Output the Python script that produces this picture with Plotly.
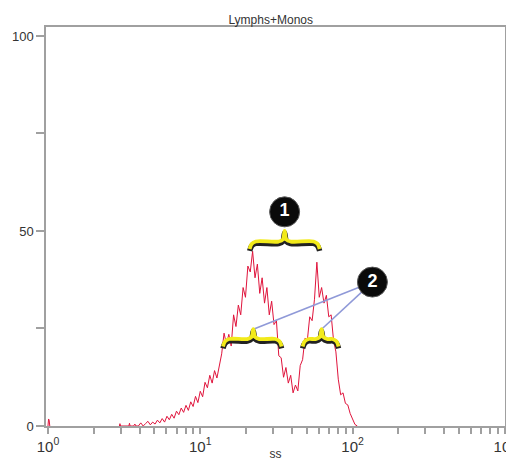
import math
import plotly.graph_objects as go

# ---------------- data ----------------
# histogram channels (256 channels per decade of SS) and event counts
# small spike at the very left of the scale
spike_channel = [0, 1, 2, 3]
spike_count = [0, 1.8, 1.5, 0]
# main distribution
channel = [120, 121, 122, 136, 137, 138, 144, 146, 148,
           152, 156, 160, 164, 168, 172, 176, 180, 184, 188, 192, 196,
           200, 204, 208, 212, 216, 220, 224, 228, 232, 236, 240, 244,
           248, 252, 256, 260, 264, 268, 272, 276, 280, 284, 288, 292,
           296, 300, 304, 308, 312, 316, 320, 324, 328, 332, 336, 340,
           344, 348, 352, 356, 360, 364, 368, 372, 376, 380, 384, 388,
           392, 396, 400, 404, 408, 412, 416, 420, 424, 428, 432, 436,
           440, 444, 448, 452, 456, 460, 464, 468, 472, 476, 480, 484,
           488, 492, 496, 500, 504, 508, 512, 516, 520]
count = [0, 0.6, 0, 0, 0.7, 0, 0, 0.5, 0,
         0, 0.8, 0, 0.6, 1.2, 0.3, 1.0, 0.5, 1.5, 0.8, 1.9, 1.0,
         2.5, 1.6, 3.0, 2.0, 3.8, 2.9, 4.6, 3.5, 5.3, 4.0, 6.2, 5.0,
         7.6, 6.0, 8.9, 7.5, 11.2, 9.8, 13.0, 11.0, 14.2, 12.3, 15.0, 18.5,
         23.8, 21.0, 23.5, 20.5, 28.5, 25.5, 31.0, 28.5, 35.5, 33.0, 41.0, 39.5,
         44.8, 38.0, 41.5, 34.0, 38.0, 31.5, 35.5, 28.5, 32.0, 26.0, 27.0, 18.0,
         17.5, 12.5, 15.0, 11.0, 13.0, 8.5, 10.5, 9.0, 15.5, 17.0, 22.5, 22.0,
         28.0, 27.0, 32.5, 42.0, 33.0, 35.5, 31.5, 33.5, 28.0, 28.5, 22.0, 19.0,
         12.0, 8.0, 8.5, 5.8, 5.4, 3.2, 1.8, 0.4, 0]
channels_per_decade = 256

title_text = "Lymphs+Monos"
x_title = "ss"
y_major = [0, 50, 100]
y_minor = [25, 75]
decades = [0, 1, 2, 3]

# annotation geometry (data coordinates)
# braces: (left SS, right SS, tip SS, flat count, tip count, end count)
braces = [
    (21.1, 60.8, 35.8, 47.3, 50.0, 45.4),
    (14.1, 34.2, 22.3, 22.3, 24.8, 20.4),
    (47.0, 80.9, 62.6, 22.3, 24.8, 20.4),
]
callouts = [("1", 35.8, 54.9), ("2", 135.0, 36.9)]

# ---------------- figure ----------------
red = "#e0143c"
fig = go.Figure()
for chs, cts in ((spike_channel, spike_count), (channel, count)):
    fig.add_trace(go.Scatter(x=[10 ** (c / channels_per_decade) for c in chs], y=cts,
                             mode="lines", line=dict(color=red, width=1),
                             hoverinfo="skip", showlegend=False))


def brace_points(xa, xb, xm, yf, yt, ye):
    L, R, M = math.log10(xa), math.log10(xb), math.log10(xm)
    w = 0.04
    xs = [L, L + w * 0.35, L + w, M - w, M - w * 0.3, M,
          M + w * 0.3, M + w, R - w, R - w * 0.35, R]
    ys = [ye, yf - 0.6, yf, yf, yf + 0.5, yt,
          yf + 0.5, yf, yf, yf - 0.6, ye]
    return [10 ** v for v in xs], ys


# blue leader lines from callout 2 to the lower braces' tips
c2 = callouts[1]
for b in braces[1:]:
    fig.add_trace(go.Scatter(x=[b[2], c2[1]], y=[b[4], c2[2]], mode="lines",
                             line=dict(color="#8f99d8", width=1.6),
                             hoverinfo="skip", showlegend=False))

for b in braces:
    bx, by = brace_points(*b)
    fig.add_trace(go.Scatter(x=bx, y=[v - 0.5 for v in by], mode="lines",
                             line=dict(color="#222222", width=5.5, shape="spline"),
                             hoverinfo="skip", showlegend=False))
    fig.add_trace(go.Scatter(x=bx, y=by, mode="lines",
                             line=dict(color="#f2ea1a", width=3.8, shape="spline"),
                             hoverinfo="skip", showlegend=False))

fig.add_trace(go.Scatter(x=[c[1] for c in callouts], y=[c[2] for c in callouts],
                         mode="markers+text", text=[f"<b>{c[0]}</b>" for c in callouts],
                         textposition="middle center",
                         textfont=dict(color="white", size=18,
                                       family="Liberation Sans"),
                         marker=dict(color="#0a0a0a", size=30,
                                     line=dict(color="#555555", width=1)),
                         hoverinfo="skip", showlegend=False))

x_major = [10 ** d for d in decades]
x_major_text = [f"10<sup>{d}</sup>" for d in decades]
x_minor = [m * 10 ** d for d in decades[:-1] for m in range(2, 10)]

axis_col = "#a0a0a0"
fig.update_layout(
    width=506, height=461,
    margin=dict(l=46, r=1, t=27, b=35),
    paper_bgcolor="white", plot_bgcolor="white",
    font=dict(family="Liberation Sans, Arial, sans-serif", color="#333333", size=13),
    title=dict(text=title_text, x=0.535, xanchor="center", y=0.958, yanchor="middle",
               font=dict(size=12, color="#333333")),
    xaxis=dict(type="log", range=[-0.013, 3.001], showgrid=False, zeroline=False,
               automargin=False,
               showline=True, linecolor=axis_col, linewidth=1.5, mirror=True,
               layer="above traces", ticklabeloverflow="allow",
               ticks="outside", ticklen=6, tickcolor=axis_col, tickwidth=1.5,
               tickmode="array", tickvals=x_major, ticktext=x_major_text,
               tickfont=dict(size=15),
               minor=dict(tickmode="array", tickvals=x_minor, ticks="outside",
                          ticklen=6, tickcolor=axis_col, tickwidth=1.5,
                          showgrid=False),
               title=dict(text=x_title, standoff=0, font=dict(size=12))),
    yaxis=dict(range=[0, 102.3], showgrid=False, zeroline=False,
               automargin=False,
               showline=True, linecolor=axis_col, linewidth=1.5, mirror=True,
               layer="above traces",
               ticks="outside", ticklen=8, tickcolor=axis_col, tickwidth=1.5,
               tickmode="array", tickvals=y_major,
               minor=dict(tickmode="array", tickvals=y_minor, ticks="outside",
                          ticklen=8, tickcolor=axis_col, tickwidth=1.5,
                          showgrid=False)),
)

fig.write_html("out.html")
